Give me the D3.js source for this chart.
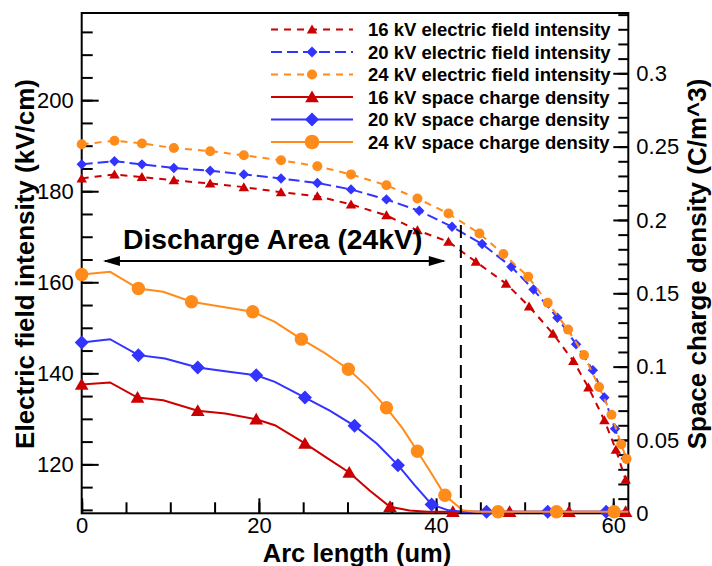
<!DOCTYPE html>
<html>
<head>
<meta charset="utf-8">
<script src="https://cdn.jsdelivr.net/npm/d3@7"></script>
<style>
  html, body { margin: 0; padding: 0; background: #fff; }
  svg { display: block; font-family: "Liberation Sans", Arial, Helvetica, sans-serif; }
</style>
</head>
<body>
<svg id="chart" width="712" height="566"></svg>
<script>
// ---------------- DATA ----------------
const xMajorTicks = [0, 20, 40, 60];
const leftMajorTicks = [120, 140, 160, 180, 200];
const rightMajorTicks = [0, 0.05, 0.1, 0.15, 0.2, 0.25, 0.3];

// electric field intensity (kV/cm), [arc length um, value]
const field16 = [[0,182.8],[3.7,183.7],[6.8,183.1],[10.4,182.4],[14.5,181.7],[18.3,180.9],[22.5,179.8],[26.6,178.9],[30.4,177.1],[34.4,174.7],[37.9,171.4],[41.4,168.9],[44.5,164.5],[47.9,159.7],[50.5,154.7],[53.2,148.7],[55.5,142.7],[57.2,136.9],[59.0,129.7],[60.3,123.2],[61.4,116.6]];
const field20 = [[0,185.9],[3.7,186.6],[6.8,185.9],[10.4,185.1],[14.5,184.5],[18.3,183.7],[22.5,182.8],[26.6,181.8],[30.4,180.4],[34.4,178.2],[38.1,175.7],[41.8,172.2],[45.2,168.4],[48.5,163.4],[51.0,158.4],[53.7,152.2],[55.8,146.4],[57.7,140.7],[59.0,134.7],[60.2,127.8],[61.4,121.3]];
const field24 = [[0,190.3],[3.7,191.1],[6.8,190.5],[10.4,189.5],[14.5,188.8],[18.3,187.9],[22.5,186.8],[26.6,185.5],[30.4,183.7],[34.4,181.3],[37.9,178.4],[41.4,175.1],[44.9,170.7],[47.6,166.2],[50.4,161.2],[52.6,155.5],[54.9,149.6],[56.7,144.0],[58.4,137.0],[59.8,130.9],[60.9,124.4],[61.5,121.2]];

// space charge density (C/m^3), [arc length um, value, marker shown]
const charge16 = [[0,0.0868,1],[3.2,0.0882,0],[6.3,0.0779,1],[9.2,0.0761,0],[13.1,0.0689,1],[16.2,0.067,0],[19.7,0.0631,1],[21.8,0.059,0],[25.2,0.0466,1],[27.8,0.0363,0],[30.2,0.0268,1],[32.5,0.0145,0],[34.8,0.0034,1],[37,0.0009,0],[39,0,0],[41.9,0,1],[45,0,0],[48.3,0,1],[51.6,0,0],[55.0,0,1],[58.2,0,0],[61.4,0,1]];
const charge20 = [[0,0.1154,1],[3.2,0.1177,0],[6.4,0.1068,1],[9.4,0.1045,0],[13.1,0.0984,1],[16.2,0.0959,0],[19.7,0.0931,1],[21.8,0.0886,0],[25.2,0.0779,1],[28,0.069,0],[30.8,0.0586,1],[33.3,0.0466,0],[35.7,0.0318,1],[37.6,0.018,0],[39.5,0.005,1],[41.4,0.001,0],[43,0,0],[45.7,0,1],[49.1,0,0],[52.6,0,1],[55.9,0,0],[59.2,0,1],[61.7,0,0]];
const charge24 = [[0,0.1618,1],[3.2,0.1636,0],[6.4,0.1522,1],[9.2,0.150,0],[12.4,0.1432,1],[15.8,0.1398,0],[19.3,0.1364,1],[21.8,0.1295,0],[24.8,0.1177,1],[27.5,0.108,0],[30.1,0.0972,1],[32.3,0.085,0],[34.4,0.0709,1],[36.2,0.057,0],[37.9,0.0413,1],[39.5,0.026,0],[41.0,0.0113,1],[43.0,0.001,0],[44.5,0,0],[47.0,0,1],[50.3,0,0],[53.6,0,1],[56.8,0,0],[60.1,0,1],[61.7,0,0]];

const legendLabels = ["16 kV electric field intensity","20 kV electric field intensity","24 kV electric field intensity","16 kV space charge density","20 kV space charge density","24 kV space charge density"];
const dischargeX = 42.8;   // dashed boundary (um)
const arrowFromX = 2.4, arrowToX = 41.1;

// ---------------- CHART ----------------
const svg = d3.select("#chart");
const L = 81.7, R = 628.3, T = 13, B = 513.3;

const x = d3.scaleLinear().domain([0, 61.7]).range([L, R]);
const yL = d3.scaleLinear().domain([109.25, 219.15]).range([B, T]);
const yR = d3.scaleLinear().domain([0, 0.3411]).range([B, T]);

const RED = "#cc0000", BLUE = "#3333ff", ORANGE = "#ff8c1a";

// axes
const tickFont = g => g.selectAll("text").attr("font-size", 22).attr("fill", "#000")
  .attr("font-family", '"Liberation Sans", Arial, sans-serif');
const clean = g => { g.select(".domain").remove(); g.selectAll("line").attr("stroke", "#000").attr("stroke-width", 2); };

// left
svg.append("g").attr("transform", `translate(${L},0)`)
  .call(d3.axisLeft(yL).tickValues(d3.range(110, 216, 5)).tickSize(-11).tickFormat(""))
  .call(clean);
svg.append("g").attr("transform", `translate(${L},0)`)
  .call(d3.axisLeft(yL).tickValues(leftMajorTicks).tickSize(-17).tickPadding(8))
  .call(clean).call(tickFont);
// right
svg.append("g").attr("transform", `translate(${R},0)`)
  .call(d3.axisRight(yR).tickValues(d3.range(0, 35).map(i => i / 100)).tickSize(-10).tickFormat(""))
  .call(clean);
svg.append("g").attr("transform", `translate(${R},0)`)
  .call(d3.axisRight(yR).tickValues(rightMajorTicks).tickSize(-15).tickPadding(8).tickFormat(d => String(d)))
  .call(clean).call(tickFont);
// bottom
svg.append("g").attr("transform", `translate(0,${B})`)
  .call(d3.axisBottom(x).tickValues(d3.range(0, 62, 5)).tickSize(-11).tickFormat(""))
  .call(clean);
svg.append("g").attr("transform", `translate(0,${B})`)
  .call(d3.axisBottom(x).tickValues(xMajorTicks).tickSize(-15).tickPadding(4.5))
  .call(clean).call(tickFont);

// frame
svg.append("rect").attr("x", L).attr("y", T).attr("width", R - L).attr("height", B - T)
  .attr("fill", "none").attr("stroke", "#000").attr("stroke-width", 2);

// markers
function markerPath(type, s) {
  if (type === "circle") return d3.symbol(d3.symbolCircle, Math.PI * s * s)();
  if (type === "diamond") return `M0,${-s}L${s},0L0,${s}L${-s},0Z`;
  return `M0,${-s * 1.0}L${s * 1.05},${s * 0.8}L${-s * 1.05},${s * 0.8}Z`;
}

const plot = svg.append("g");

// space charge density (solid)
const chargeSeries = [
  { data: charge16, color: RED, type: "triangle", size: 6.5 },
  { data: charge20, color: BLUE, type: "diamond", size: 7 },
  { data: charge24, color: ORANGE, type: "circle", size: 6.7 }
];
// field (dashed)
const fieldSeries = [
  { data: field16, color: RED, type: "triangle", size: 5, dash: "7,6" },
  { data: field20, color: BLUE, type: "diamond", size: 5.2, dash: "11,5" },
  { data: field24, color: ORANGE, type: "circle", size: 5, dash: "7,6" }
];

fieldSeries.forEach(s => {
  plot.append("path").datum(s.data)
    .attr("d", d3.line().x(d => x(d[0])).y(d => yL(d[1])))
    .attr("fill", "none").attr("stroke", s.color).attr("stroke-width", 2)
    .attr("stroke-dasharray", s.dash);
  plot.selectAll(null).data(s.data).enter().append("path")
    .attr("transform", d => `translate(${x(d[0])},${yL(d[1])})`)
    .attr("d", markerPath(s.type, s.size)).attr("fill", s.color);
});

chargeSeries.forEach(s => {
  plot.append("path").datum(s.data)
    .attr("d", d3.line().x(d => x(d[0])).y(d => yR(d[1]) - 1.5))
    .attr("fill", "none").attr("stroke", s.color).attr("stroke-width", 2);
  plot.selectAll(null).data(s.data.filter(d => d[2])).enter().append("path")
    .attr("transform", d => `translate(${x(d[0])},${yR(d[1]) - 1.5})`)
    .attr("d", markerPath(s.type, s.size)).attr("fill", s.color);
});

// discharge boundary
svg.append("line").attr("x1", x(dischargeX)).attr("x2", x(dischargeX))
  .attr("y1", 225).attr("y2", B).attr("stroke", "#000").attr("stroke-width", 2)
  .attr("stroke-dasharray", "13,7");

// double arrow
const ay = 261, ax1 = x(arrowFromX), ax2 = x(arrowToX);
svg.append("line").attr("x1", ax1 + 2).attr("x2", ax2 - 2).attr("y1", ay).attr("y2", ay)
  .attr("stroke", "#000").attr("stroke-width", 2);
svg.append("path").attr("d", `M${ax1},${ay}L${ax1 + 17},${ay - 5}L${ax1 + 17},${ay + 5}Z`).attr("fill", "#000");
svg.append("path").attr("d", `M${ax2},${ay}L${ax2 - 17},${ay - 5}L${ax2 - 17},${ay + 5}Z`).attr("fill", "#000");

svg.append("text").attr("x", 123).attr("y", 249).attr("font-size", 28.3).attr("font-weight", "bold")
  .text("Discharge Area (24kV)");

// legend
const legendItems = [
  { color: RED, type: "triangle", size: 5, dash: "7,6" },
  { color: BLUE, type: "diamond", size: 5.5, dash: "11,5" },
  { color: ORANGE, type: "circle", size: 5, dash: "7,6" },
  { color: RED, type: "triangle", size: 6.5, dash: null },
  { color: BLUE, type: "diamond", size: 7, dash: null },
  { color: ORANGE, type: "circle", size: 7.3, dash: null }
];
const lg = svg.append("g");
legendItems.forEach((it, i) => {
  const yy = 29.5 + i * 22.5;
  lg.append("line").attr("x1", 271).attr("x2", 353).attr("y1", yy).attr("y2", yy)
    .attr("stroke", it.color).attr("stroke-width", 2).attr("stroke-dasharray", it.dash);
  lg.append("path").attr("transform", `translate(312,${yy})`).attr("d", markerPath(it.type, it.size)).attr("fill", it.color);
  lg.append("text").attr("x", 368).attr("y", yy).attr("dy", "0.36em")
    .attr("font-size", 18.5).attr("font-weight", "bold").text(legendLabels[i]);
});

// axis titles
svg.append("text").attr("transform", "translate(25,264) rotate(-90)")
  .attr("text-anchor", "middle").attr("dominant-baseline", "central")
  .attr("font-size", 26).attr("font-weight", "bold").text("Electric field intensity (kV/cm)");
svg.append("text").attr("transform", "translate(697,264) rotate(-90)")
  .attr("text-anchor", "middle").attr("dominant-baseline", "central")
  .attr("font-size", 26).attr("font-weight", "bold").text("Space charge density (C/m^3)");
svg.append("text").attr("x", 357).attr("y", 562).attr("text-anchor", "middle")
  .attr("font-size", 25.5).attr("font-weight", "bold").text("Arc length (um)");
</script>
</body>
</html>
